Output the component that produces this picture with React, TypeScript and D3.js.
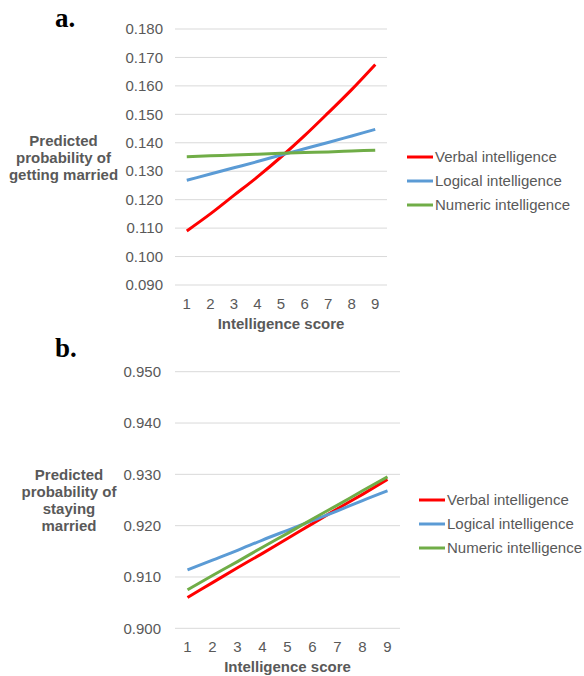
import React from "react";
import * as d3 from "d3";

const scores = ["1", "2", "3", "4", "5", "6", "7", "8", "9"];
const seriesNames = ["Verbal intelligence", "Logical intelligence", "Numeric intelligence"];

const marriedVerbal = [0.109, 0.115, 0.1215, 0.128, 0.135, 0.1425, 0.1505, 0.1587, 0.1675];
const marriedLogical = [0.1268, 0.129, 0.1312, 0.1334, 0.1357, 0.1379, 0.1401, 0.1424, 0.1447];
const marriedNumeric = [0.1351, 0.1354, 0.1357, 0.136, 0.1363, 0.1366, 0.1368, 0.1371, 0.1374];
const marriedTicks = [0.09, 0.1, 0.11, 0.12, 0.13, 0.14, 0.15, 0.16, 0.17, 0.18];

const stayVerbal = [0.906, 0.9089, 0.9118, 0.9146, 0.9175, 0.9204, 0.9233, 0.9261, 0.929];
const stayLogical = [0.9114, 0.9133, 0.9152, 0.9172, 0.9191, 0.921, 0.9229, 0.9249, 0.9268];
const stayNumeric = [0.9075, 0.9103, 0.913, 0.9158, 0.9185, 0.9213, 0.924, 0.9268, 0.9295];
const stayTicks = [0.9, 0.91, 0.92, 0.93, 0.94, 0.95];

const colors = ["#FF0000", "#5B9BD5", "#70AD47"];
const textColor = "#595959";
const font = "'Liberation Sans', Arial, sans-serif";

type PanelProps = {
  label: string;
  labelY: number;
  series: number[][];
  ticks: number[];
  x0: number;
  x1: number;
  yTop: number;
  yBottom: number;
  tickRight: number;
  titleLines: string[];
  titleX: number;
  titleY0: number;
  legendX: number;
  legendY0: number;
};

function Panel(p: PanelProps) {
  const x = d3.scaleBand<string>().domain(scores).range([p.x0, p.x1]).padding(0);
  const y = d3
    .scaleLinear()
    .domain([d3.min(p.ticks)!, d3.max(p.ticks)!])
    .range([p.yBottom, p.yTop]);
  const line = d3
    .line<number>()
    .x((_, i) => (x(scores[i]) as number) + x.bandwidth() / 2)
    .y((d) => y(d))
    .curve(d3.curveMonotoneX);
  return (
    <g>
      <text x={55} y={p.labelY} fontFamily="'Liberation Serif', 'Times New Roman', serif" fontWeight="bold" fontSize={27} fill="#000">
        {p.label}
      </text>
      {p.ticks.map((t) => (
        <g key={t}>
          <line x1={p.x0} x2={p.x1} y1={y(t)} y2={y(t)} stroke="#D9D9D9" strokeWidth={1} />
          <text x={p.tickRight} y={y(t)} dy="0.35em" textAnchor="end" fontFamily={font} fontSize={15} fill={textColor}>
            {d3.format(".3f")(t)}
          </text>
        </g>
      ))}
      {scores.map((s) => (
        <text key={s} x={(x(s) as number) + x.bandwidth() / 2} y={p.yBottom + 24} textAnchor="middle" fontFamily={font} fontSize={15} fill={textColor}>
          {s}
        </text>
      ))}
      <text x={(p.x0 + p.x1) / 2} y={p.yBottom + 44} textAnchor="middle" fontFamily={font} fontSize={15} fontWeight="bold" fill={textColor}>
        Intelligence score
      </text>
      {p.titleLines.map((t, i) => (
        <text key={t} x={p.titleX} y={p.titleY0 + i * 17} textAnchor="middle" fontFamily={font} fontSize={15} fontWeight="bold" fill={textColor}>
          {t}
        </text>
      ))}
      {p.series.map((s, i) => (
        <path key={i} d={line(s) || ""} fill="none" stroke={colors[i]} strokeWidth={3} />
      ))}
      {seriesNames.map((n, i) => (
        <g key={n}>
          <line x1={p.legendX} x2={p.legendX + 26} y1={p.legendY0 + i * 24} y2={p.legendY0 + i * 24} stroke={colors[i]} strokeWidth={3} />
          <text x={p.legendX + 28} y={p.legendY0 + i * 24} dy="0.35em" fontFamily={font} fontSize={15} fill={textColor}>
            {n}
          </text>
        </g>
      ))}
    </g>
  );
}

export default function App() {
  return (
    <svg width={584} height={676} style={{ position: "absolute", left: 0, top: 0, background: "#fff" }}>
      <rect width={584} height={676} fill="#fff" />
      <Panel
        label="a."
        labelY={27}
        series={[marriedVerbal, marriedLogical, marriedNumeric]}
        ticks={marriedTicks}
        x0={175}
        x1={387}
        yTop={29}
        yBottom={285}
        tickRight={163}
        titleLines={["Predicted", "probability of", "getting married"]}
        titleX={63.5}
        titleY0={146}
        legendX={407}
        legendY0={157}
      />
      <Panel
        label="b."
        labelY={357}
        series={[stayVerbal, stayLogical, stayNumeric]}
        ticks={stayTicks}
        x0={175}
        x1={400}
        yTop={371.7}
        yBottom={628.3}
        tickRight={161}
        titleLines={["Predicted", "probability of", "staying", "married"]}
        titleX={69}
        titleY0={480}
        legendX={419}
        legendY0={500}
      />
    </svg>
  );
}
